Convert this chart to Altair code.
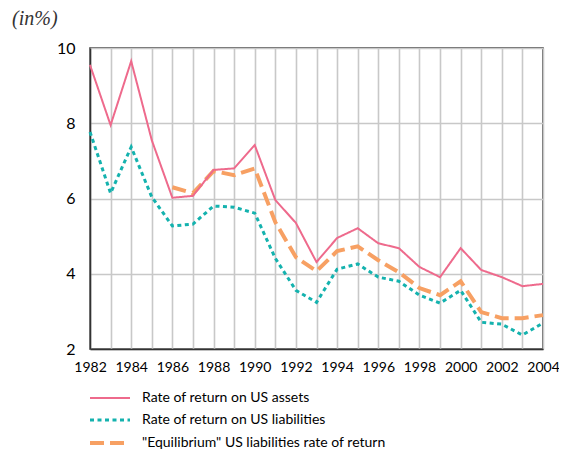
import altair as alt
import pandas as pd

years = list(range(1982, 2005))
assets = [9.55, 7.95, 9.65, 7.55, 6.02, 6.07, 6.76, 6.8, 7.42, 5.96, 5.35, 4.31,
          4.95, 5.21, 4.81, 4.68, 4.18, 3.91, 4.68, 4.1, 3.91, 3.67, 3.73]
liabilities = [7.77, 6.14, 7.37, 6.04, 5.27, 5.32, 5.8, 5.77, 5.61, 4.41, 3.56, 3.24,
               4.12, 4.26, 3.91, 3.8, 3.43, 3.22, 3.56, 2.71, 2.66, 2.37, 2.69]
eq_years = list(range(1986, 2005))
equilibrium = [6.3, 6.14, 6.73, 6.62, 6.8, 5.37, 4.44, 4.07, 4.6, 4.73, 4.36, 4.04,
               3.62, 3.43, 3.8, 2.98, 2.82, 2.82, 2.9]

s_assets = "Rate of return on US assets"
s_liab = "Rate of return on US liabilities"
s_eq = "\"Equilibrium\" US liabilities rate of return"
series_names = [s_assets, s_liab, s_eq]
colors = ["#EE6A8C", "#14B2AE", "#F7A063"]
dashes = [[1, 0], [4, 3.5], [14, 6]]
widths = [2, 4, 5]

rows = []
for y, v in zip(years, liabilities):
    rows.append({"year": y, "value": v, "series": s_liab, "k": 0})
for y, v in zip(eq_years, equilibrium):
    rows.append({"year": y, "value": v, "series": s_eq, "k": 1})
for y, v in zip(years, assets):
    rows.append({"year": y, "value": v, "series": s_assets, "k": 2})
df = pd.DataFrame(rows)

FONT = "Lato"

lines = alt.Chart(df).mark_line(strokeCap="butt", strokeJoin="miter").encode(
    x=alt.X("year:Q", scale=alt.Scale(domain=[1982, 2004], nice=False, zero=False),
            axis=alt.Axis(values=years, format="d", title=None, ticks=False,
                          labelExpr="datum.value % 2 == 0 ? datum.label : ''",
                          labelFontSize=14, labelPadding=11, labelColor="#000",
                          labelFont=FONT, gridColor="#c8c8c8", gridWidth=1.6,
                          domainColor="#333", domainWidth=1.5, labelFlush=False)),
    y=alt.Y("value:Q", scale=alt.Scale(domain=[2, 10], nice=False, zero=False),
            axis=alt.Axis(values=[2, 4, 6, 8, 10], title=None, ticks=False,
                          labelFontSize=16, labelPadding=15, labelColor="#000",
                          labelFont=FONT, gridColor="#c8c8c8", gridWidth=1.6,
                          domainColor="#333", domainWidth=1.5)),
    color=alt.Color("series:N", scale=alt.Scale(domain=series_names, range=colors),
                    legend=alt.Legend(title=None, orient="none", legendX=8, legendY=339,
                                      symbolType="M-2,0H2", symbolSize=400,
                                      symbolFillColor="transparent",
                                      labelFontSize=14, labelFont=FONT, labelColor="#000",
                                      labelOffset=20, rowPadding=3.5, labelLimit=400)),
    strokeDash=alt.StrokeDash("series:N", scale=alt.Scale(domain=series_names, range=dashes)),
    strokeWidth=alt.StrokeWidth("series:N", scale=alt.Scale(domain=series_names, range=widths)),
    order="year:Q",
    detail="series:N",
)

title_df = pd.DataFrame({"t": ["(in%)"]})
title = alt.Chart(title_df).mark_text(
    align="left", baseline="middle", font="Liberation Serif", fontStyle="italic",
    fontSize=20, color="#333"
).encode(text="t:N", x=alt.value(-78), y=alt.value(-29))

chart = alt.layer(lines, title).properties(
    width=453, height=301,
    autosize=alt.AutoSizeParams(type="none"),
    padding={"left": 82, "top": 40, "right": 16, "bottom": 106},
).configure_view(stroke="#333", strokeWidth=1.5)

chart.save("out.html", embed_options={"renderer": "svg", "actions": False})
